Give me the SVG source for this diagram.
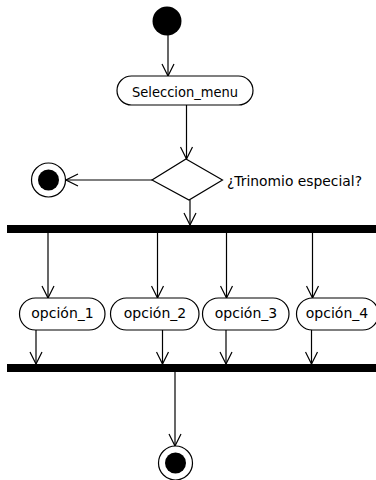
<svg xmlns="http://www.w3.org/2000/svg" width="376" height="480" viewBox="0 0 376 480">
  <defs>
    <marker id="open" viewBox="0 0 14 14" refX="13" refY="7" markerWidth="14" markerHeight="14" markerUnits="userSpaceOnUse" orient="auto">
      <path d="M1,1 L13,7 L1,13" fill="none" stroke="#000" stroke-width="1.2"/>
    </marker>
  </defs>
  <style>
    .edge { fill: none; stroke: #000; stroke-width: 1.2; marker-end: url(#open); }
    .act { fill: #fff; stroke: #000; stroke-width: 1.2; }
    .bar { fill: #000; }
    .lbl { font-family: "DejaVu Sans", Verdana, sans-serif; font-size: 14px; fill: #000; }
  </style>
  <rect width="376" height="480" fill="#fff"/>

  <g id="connectors">
    <line class="edge" x1="168" y1="35" x2="168" y2="76"/>
    <line class="edge" x1="186.5" y1="105" x2="186.5" y2="159"/>
    <line class="edge" x1="152" y1="180" x2="66" y2="180"/>
    <line class="edge" x1="190" y1="200" x2="190" y2="225"/>
    <line class="edge" x1="48" y1="233" x2="48" y2="298"/>
    <line class="edge" x1="157.5" y1="233" x2="157.5" y2="298"/>
    <line class="edge" x1="226.5" y1="233" x2="226.5" y2="298"/>
    <line class="edge" x1="312.5" y1="233" x2="312.5" y2="298"/>
    <line class="edge" x1="36" y1="330" x2="36" y2="364"/>
    <line class="edge" x1="162.5" y1="330" x2="162.5" y2="364"/>
    <line class="edge" x1="226" y1="330" x2="226" y2="364"/>
    <line class="edge" x1="311.5" y1="330" x2="311.5" y2="364"/>
    <line class="edge" x1="175" y1="372" x2="175" y2="446"/>
  </g>

  <g id="start">
    <circle cx="167" cy="21" r="14.5" fill="#000"/>
  </g>

  <g id="seleccion_menu">
    <rect class="act" x="117" y="76" width="136" height="29" rx="14.5"/>
    <text class="lbl" x="132" y="96.5" textLength="106" lengthAdjust="spacingAndGlyphs">Seleccion_menu</text>
  </g>

  <g id="decision">
    <polygon class="act" points="186,159 222.5,180 189,200 152,180"/>
    <text class="lbl" x="227" y="186" textLength="135" lengthAdjust="spacingAndGlyphs">¿Trinomio especial?</text>
  </g>

  <g id="final_left">
    <circle cx="48.5" cy="180" r="17" fill="#fff" stroke="#000" stroke-width="1.2"/>
    <circle cx="48.5" cy="180" r="10.5" fill="#000"/>
  </g>

  <g id="fork">
    <rect class="bar" x="7" y="225" width="369" height="8"/>
  </g>

  <g id="opcion_1">
    <rect class="act" x="19.5" y="298" width="85.5" height="32" rx="16"/>
    <text class="lbl" x="62.5" y="317.5" text-anchor="middle">opción_1</text>
  </g>
  <g id="opcion_2">
    <rect class="act" x="110.5" y="298" width="88.5" height="32" rx="16"/>
    <text class="lbl" x="155" y="317.5" text-anchor="middle">opción_2</text>
  </g>
  <g id="opcion_3">
    <rect class="act" x="202.5" y="298" width="86.5" height="32" rx="16"/>
    <text class="lbl" x="246" y="317.5" text-anchor="middle">opción_3</text>
  </g>
  <g id="opcion_4">
    <rect class="act" x="296.5" y="298" width="82" height="32" rx="16"/>
    <text class="lbl" x="337" y="317.5" text-anchor="middle">opción_4</text>
  </g>

  <g id="join">
    <rect class="bar" x="7" y="364" width="369" height="8"/>
  </g>

  <g id="final_bottom">
    <circle cx="175.5" cy="463" r="17" fill="#fff" stroke="#000" stroke-width="1.2"/>
    <circle cx="175.5" cy="463" r="10.5" fill="#000"/>
  </g>
</svg>
